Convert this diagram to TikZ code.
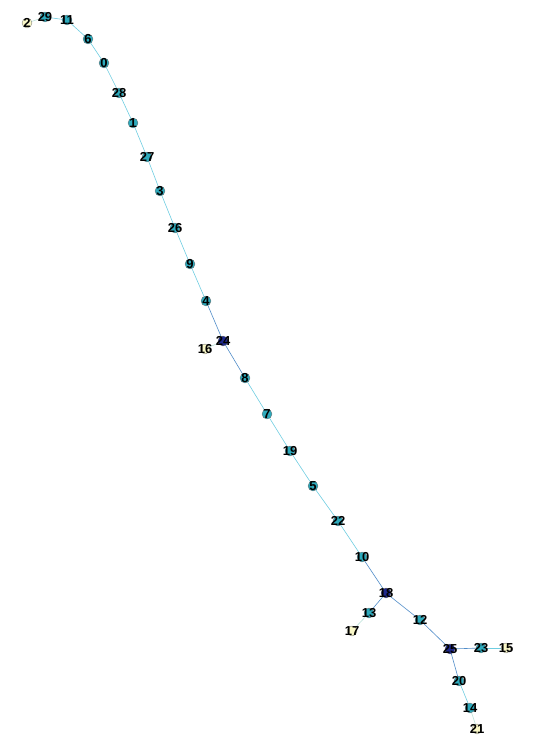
\documentclass[tikz,border=0pt]{standalone}
\usepackage{fontspec}
\setmainfont{Liberation Sans}
\usepackage{tikz}
\usetikzlibrary{positioning, backgrounds}
\definecolor{leafcol}{RGB}{250,248,200}
\definecolor{midcol}{RGB}{45,170,188}
\definecolor{hubcol}{RGB}{30,40,140}
\definecolor{edgecyan}{RGB}{110,205,225}
\definecolor{edgeblue}{RGB}{80,140,200}
\definecolor{edgepale}{RGB}{185,225,215}

\tikzset{
  dot/.style={circle, inner sep=0pt, minimum size=10pt, draw=black!60, line width=0.3pt},
  leaf/.style={dot, fill=leafcol},
  mid/.style={dot, fill=midcol},
  hub/.style={dot, fill=hubcol},
  lbl/.style={font=\fontsize{13}{13}\selectfont\bfseries, text=black, inner sep=0pt},
  link/.style={line width=0.6pt}
}

\begin{document}
\begin{tikzpicture}[x=1pt, y=-1pt]
  \useasboundingbox (0,0) rectangle (548,738);

  % Dots, coloured by degree
  \foreach \n/\x/\y in {29/45/17, 11/67/20, 6/88/39, 0/104/63, 28/119/93,
      1/133/123, 27/147/157, 3/160/191, 26/175/228, 9/190/264, 4/206/301,
      8/245/378, 7/267/414, 19/290/451, 5/313/486, 22/338/521, 10/362/557,
      13/369/613, 12/420/620, 23/481/648, 20/459/681, 14/470/708}
    \node[mid] (n\n) at (\x,\y) {};
  \foreach \n/\x/\y in {24/223/341, 18/386/593, 25/450/649}
    \node[hub] (n\n) at (\x,\y) {};
  \foreach \n/\x/\y in {2/27/23, 16/205/349, 17/352/631, 15/506/648, 21/477/729}
    \node[leaf] (n\n) at (\x,\y) {};

  % Labels on top of the dots
  \foreach \n in {2,29,11,6,0,28,1,27,3,26,9,4,24,16,8,7,19,5,22,10,18,13,17,12,25,23,15,20,14,21}
    \node[lbl] (t\n) at (n\n) {\n};

  % Edges behind everything
  \begin{pgfonlayer}{background}
    \foreach \a/\b in {29/11, 11/6, 6/0, 0/28, 28/1, 1/27, 27/3, 3/26,
                       26/9, 9/4, 8/7, 7/19, 19/5, 5/22, 22/10, 23/15, 20/14}
      \draw[link, edgecyan] (n\a.center) -- (n\b.center);
    \foreach \a/\b in {4/24, 24/8, 10/18, 18/13, 18/12, 12/25, 25/23, 25/20}
      \draw[link, edgeblue] (n\a.center) -- (n\b.center);
    \foreach \a/\b in {2/29, 24/16, 13/17, 14/21}
      \draw[link, edgepale] (n\a.center) -- (n\b.center);
  \end{pgfonlayer}
\end{tikzpicture}
\end{document}
